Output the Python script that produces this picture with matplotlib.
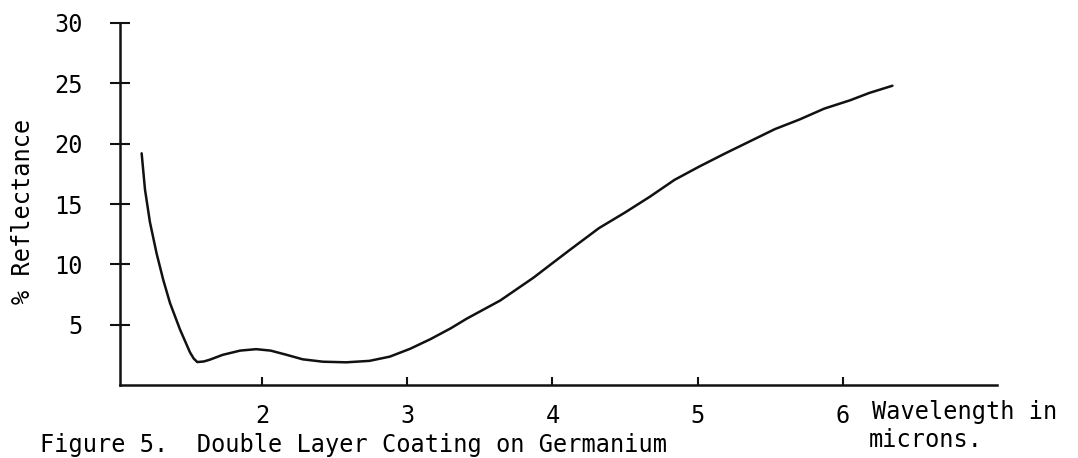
import matplotlib
matplotlib.use("Agg")
import matplotlib.pyplot as plt

# reflectance curve (wavelength in microns, % reflectance)
wavelength = [1.172, 1.195, 1.229, 1.275, 1.321, 1.367, 1.436, 1.505, 1.530, 1.555,
              1.600, 1.642, 1.730, 1.850, 1.960, 2.060, 2.170, 2.280, 2.420, 2.580,
              2.740, 2.880, 3.020, 3.160, 3.300, 3.410, 3.640, 3.870, 4.000, 4.120,
              4.320, 4.500, 4.670, 4.840, 5.010, 5.190, 5.360, 5.530, 5.700, 5.870,
              6.050, 6.180, 6.340]
reflectance = [19.2, 16.2, 13.5, 10.9, 8.7, 6.8, 4.6, 2.7, 2.2, 1.9,
               1.95, 2.1, 2.5, 2.85, 2.97, 2.85, 2.5, 2.13, 1.93, 1.88,
               2.0, 2.35, 3.0, 3.8, 4.7, 5.5, 7.0, 8.9, 10.1, 11.2,
               13.0, 14.3, 15.6, 17.0, 18.1, 19.2, 20.2, 21.2, 22.0, 22.9,
               23.6, 24.2, 24.8]

x_ticks = [2, 3, 4, 5, 6]
y_ticks = [5, 10, 15, 20, 25, 30]

mono = "DejaVu Sans Mono"
fs = 17

fig = plt.figure(figsize=(10.78, 4.58), dpi=100)
W, H = 1078, 458
# axes placed in pixels: y axis at x=120, x axis at y=385, top tick at y=23, right end at x=997
ax = fig.add_axes([120 / W, (H - 385) / H, (997 - 120) / W, (385 - 23) / H])

ax.plot(wavelength, reflectance, color="#111111", lw=1.8,
        solid_capstyle="round", solid_joinstyle="round")

ax.set_xlim(1.023, 7.06)
ax.set_ylim(0, 30)

for s in ["top", "right"]:
    ax.spines[s].set_visible(False)
for s in ["left", "bottom"]:
    ax.spines[s].set_linewidth(1.8)
    ax.spines[s].set_color("#111111")

ax.set_xticks(x_ticks)
ax.set_xticklabels([str(v) for v in x_ticks], family=mono, fontsize=fs)
ax.set_yticks(y_ticks)
ax.set_yticklabels([str(v) for v in y_ticks], family=mono, fontsize=fs)
ax.tick_params(axis="y", direction="inout", length=14, width=1.5, pad=20, color="#111111")
ax.tick_params(axis="x", direction="in", length=6, width=1.5, pad=14, color="#111111")

# axis titles placed like the typed originals
fig.text(23 / W, 1 - 211 / H, "% Reflectance", rotation=90, family=mono, fontsize=fs,
         ha="center", va="center")
fig.text(872 / W, 1 - 412 / H, "Wavelength in", family=mono, fontsize=fs,
         ha="left", va="center")
fig.text(926 / W, 1 - 440 / H, "microns.", family=mono, fontsize=fs,
         ha="center", va="center")
# caption at the bottom edge (kept fully inside the figure)
fig.text(40 / W, 1 / H, "Figure 5.  Double Layer Coating on Germanium", family=mono,
         fontsize=fs, ha="left", va="bottom")

fig.savefig("out.png", dpi=100)
